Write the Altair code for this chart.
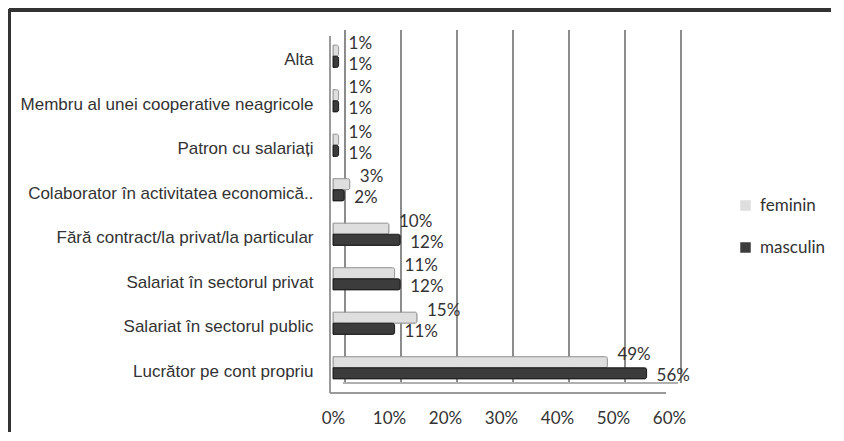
import altair as alt
import pandas as pd

categories = [
    "Alta",
    "Membru al unei cooperative neagricole",
    "Patron cu salariați",
    "Colaborator în activitatea economică..",
    "Fără contract/la privat/la particular",
    "Salariat în sectorul privat",
    "Salariat în sectorul public",
    "Lucrător pe cont propriu",
]
feminin = [1, 1, 1, 3, 10, 11, 15, 49]
masculin = [1, 1, 1, 2, 12, 12, 11, 56]
series = ["feminin", "masculin"]
tick_values = [0, 0.1, 0.2, 0.3, 0.4, 0.5, 0.6]

rows = []
for c, f, m in zip(categories, feminin, masculin):
    rows.append({"cat": c, "gen": "feminin", "v": f / 100})
    rows.append({"cat": c, "gen": "masculin", "v": m / 100})
df = pd.DataFrame(rows)
ticks_df = pd.DataFrame({"t": tick_values})

W, H = 336, 356
xscale = alt.Scale(domain=[0, 0.6], nice=False, zero=True)
yscale = alt.Scale(domain=categories, paddingInner=0.5, paddingOuter=0.25)
LAB = "Lato"

grid = alt.Chart(ticks_df).mark_rule(color="#8c8c8c", strokeWidth=2, xOffset=12).encode(
    x=alt.X("t:Q", scale=xscale, axis=alt.Axis(values=tick_values, format="%", domain=False,
            ticks=False, grid=False, labelPadding=20, labelFlush=False, labelFont=LAB,
            labelFontSize=17, labelColor="#333333", title=None)),
    y=alt.value(-4), y2=alt.value(349),
)

decor_left = alt.Chart(ticks_df).mark_rule(color="#9a9a9a", strokeWidth=2).encode(
    x=alt.value(-3), y=alt.value(2), y2=alt.value(359))
floor_front = alt.Chart(ticks_df).mark_rule(color="#9a9a9a", strokeWidth=2).encode(
    x=alt.value(-3), x2=alt.value(333), y=alt.value(359))
floor_back = alt.Chart(ticks_df).mark_rule(color="#b0b0b0", strokeWidth=1.5).encode(
    x=alt.value(10), x2=alt.value(345), y=alt.value(349))

frame_top = alt.Chart(ticks_df).mark_rule(color="#333333", strokeWidth=3).encode(
    x=alt.value(-324), x2=alt.value(600), y=alt.value(-24))
frame_left = alt.Chart(ticks_df).mark_rule(color="#333333", strokeWidth=3).encode(
    x=alt.value(-324), y=alt.value(-25), y2=alt.value(420))

bars = alt.Chart(df).mark_bar(strokeWidth=1, cornerRadiusEnd=2).encode(
    x=alt.X("v:Q", scale=xscale, title=None),
    y=alt.Y("cat:N", scale=yscale, sort=categories,
            axis=alt.Axis(domain=False, ticks=False, labelPadding=20, labelOffset=4,
                          labelLimit=400, labelFont="Liberation Sans", labelFontSize=17,
                          labelColor="#333333", title=None)),
    yOffset=alt.YOffset("gen:N", sort=series),
    color=alt.Color("gen:N", sort=series,
                    scale=alt.Scale(domain=series, range=["#dedede", "#3c3c3c"]),
                    legend=alt.Legend(title=None, orient="none", legendX=404, legendY=163,
                                      symbolType="square", symbolSize=110,
                                      symbolStrokeWidth=0, rowPadding=24,
                                      labelFont=LAB, labelFontSize=17,
                                      labelColor="#333333", labelOffset=6)),
    stroke=alt.Stroke("gen:N", sort=series,
                      scale=alt.Scale(domain=series, range=["#9a9a9a", "#1e1e1e"]),
                      legend=None),
)

lab_f = alt.Chart(df).transform_filter(alt.datum.gen == "feminin").mark_text(
    align="left", baseline="middle", dx=10, dy=-7, font=LAB, fontSize=17, color="#333333"
).encode(
    x=alt.X("v:Q", scale=xscale),
    y=alt.Y("cat:N", scale=yscale, sort=categories),
    yOffset=alt.YOffset("gen:N", sort=series, scale=alt.Scale(domain=series)),
    text=alt.Text("v:Q", format=".0%"),
)
lab_m = alt.Chart(df).transform_filter(alt.datum.gen == "masculin").mark_text(
    align="left", baseline="middle", dx=10, dy=3, font=LAB, fontSize=17, color="#333333"
).encode(
    x=alt.X("v:Q", scale=xscale),
    y=alt.Y("cat:N", scale=yscale, sort=categories),
    yOffset=alt.YOffset("gen:N", sort=series, scale=alt.Scale(domain=series)),
    text=alt.Text("v:Q", format=".0%"),
)

chart = alt.layer(
    grid, decor_left, floor_back, floor_front, frame_top, frame_left,
    bars, lab_f, lab_m
).properties(
    width=W, height=H,
    autosize=alt.AutoSizeParams(type="none"),
    padding={"left": 325, "top": 26, "right": 162, "bottom": 42},
    background="white",
).configure_view(stroke=None)

chart.save("out.html", embed_options={"renderer": "svg", "actions": False})
